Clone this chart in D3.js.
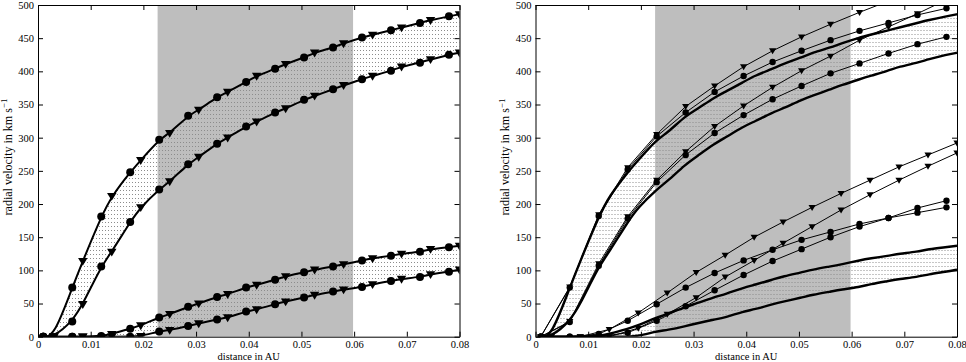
<!DOCTYPE html>
<html>
<head>
<meta charset="utf-8">
<script src="https://d3js.org/d3.v7.min.js"></script>
<style>
body { margin: 0; background: #fff; }
svg text { font-family: "Liberation Serif", "DejaVu Serif", serif; fill: #000; }
</style>
</head>
<body>
<svg id="chart" width="966" height="362"></svg>
<script>
// marker positions (distance in AU)
const xCirc = [0.001, 0.0065, 0.012, 0.0175, 0.023, 0.0285, 0.034, 0.0395, 0.045, 0.0505, 0.056, 0.0615, 0.067, 0.0725, 0.078];
const xTri  = [0.003, 0.0085, 0.014, 0.0195, 0.025, 0.0305, 0.036, 0.0415, 0.047, 0.0525, 0.058, 0.0635, 0.069, 0.0745, 0.080];

// model curves (thick), values at circle / triangle positions
const aCirc = [0, 74, 181, 248, 297, 333, 361, 384, 404, 421, 436, 451, 462, 473, 483];
const aTri  = [0, 114, 212, 266, 307, 342, 369, 393, 411, 428, 442, 455, 466, 477, 486];
const bCirc = [0, 23, 106, 173, 222, 260, 291, 317, 338, 357, 373, 388, 401, 413, 425];
const bTri  = [0, 49, 128, 195, 234, 271, 300, 324, 344, 363, 379, 393, 407, 418, 428];
const cCirc = [0, 0, 1, 12, 29, 45, 60, 74, 86, 97, 106, 115, 122, 128, 135];
const cTri  = [0, 0, 4, 17, 34, 50, 64, 78, 91, 101, 109, 118, 125, 132, 137];
const dCirc = [0, 0, 0, 0, 8, 16, 26, 38, 49, 59, 68, 75, 84, 90, 98];
const dTri  = [0, 0, 0, 1, 10, 20, 29, 41, 53, 63, 71, 79, 87, 94, 101];

// right panel: thin lines
const rT1 = [0, 75, 184, 255, 305, 347, 378, 407, 431, 452, 471, 489, 506];
const rC1 = [0, 74, 182, 252, 302, 338, 369, 393, 414, 431, 447, 461, 473, 485, 495];
const rT2 = [0, 23, 110, 181, 236, 279, 317, 348, 376, 401, 423, 447, 467, 487, 508];
const rC2 = [0, 22, 107, 178, 233, 274, 307, 334, 358, 378, 397, 412, 427, 441, 452];
const rC3 = [0, 0, 4, 24, 49, 74, 96, 115, 131, 146, 158, 170, 179, 194, 205];
const rC4 = [0, 0, 0, 6, 24, 46, 70, 93, 114, 132, 150, 166, 179, 187, 195];
const rT3 = [0, 0, 11, 36, 66, 97, 123, 150, 173, 195, 216, 236, 256, 274, 292];
const rT4 = [0, 0, 0, 13, 34, 59, 90, 115, 141, 166, 191, 214, 236, 257, 277];

const band = [0.0227, 0.0598];
const xTicks = [0, 0.01, 0.02, 0.03, 0.04, 0.05, 0.06, 0.07, 0.08];
const xTickLabels = ['0', '0.01', '0.02', '0.03', '0.04', '0.05', '0.06', '0.07', '0.08'];
const yTicks = [0, 50, 100, 150, 200, 250, 300, 350, 400, 450, 500];

const svg = d3.select('#chart');
const defs = svg.append('defs');
const pat = defs.append('pattern').attr('id', 'dots')
  .attr('patternUnits', 'userSpaceOnUse').attr('width', 3).attr('height', 4);
pat.append('rect').attr('x', 1).attr('y', 1).attr('width', 1).attr('height', 1).attr('fill', '#8c8c8c');

function merge(c, t) {
  const out = [];
  c.forEach((v, i) => { out.push([xCirc[i], v]); if (i < t.length) out.push([xTri[i], t[i]]); });
  return out;
}
const A = merge(aCirc, aTri), B = merge(bCirc, bTri), C = merge(cCirc, cTri), D = merge(dCirc, dTri);

const W = 421.5, H = 331.7;
const triPath = 'M-4.5,-3L4.5,-3L0,4.5Z';

function drawPanel(left, id, right) {
  const g = svg.append('g').attr('transform', `translate(${left},5)`);
  const x = d3.scaleLinear().domain([0, 0.08]).range([0, W]);
  const y = d3.scaleLinear().domain([0, 500]).range([H, 0]);

  defs.append('clipPath').attr('id', 'clip' + id)
    .append('rect').attr('width', W).attr('height', H);
  const p = g.append('g').attr('clip-path', `url(#clip${id})`);

  p.append('rect').attr('x', x(band[0])).attr('y', 0)
    .attr('width', x(band[1]) - x(band[0])).attr('height', H).attr('fill', '#bebebe');

  const area = (top, bot) => d3.area().curve(d3.curveBasis)
    .x((d, i) => x(top[i][0])).y0((d, i) => y(bot[i][1])).y1((d, i) => y(top[i][1]))(top);
  p.append('path').attr('d', area(A, B)).attr('fill', 'url(#dots)');
  p.append('path').attr('d', area(C, D)).attr('fill', 'url(#dots)');

  const smooth = d3.line().curve(d3.curveBasis).x(d => x(d[0])).y(d => y(d[1]));
  [A, B, C, D].forEach(s => p.append('path').attr('d', smooth(s))
    .attr('fill', 'none').attr('stroke', '#000').attr('stroke-width', right ? 2.4 : 2));

  const circles = (xs, vs, r) => p.append('g').selectAll('circle')
    .data(vs).join('circle').attr('cx', (d, i) => x(xs[i])).attr('cy', d => y(d)).attr('r', r).attr('fill', '#000');
  const tris = (xs, vs, s) => p.append('g').selectAll('path')
    .data(vs).join('path').attr('d', triPath)
    .attr('transform', (d, i) => `translate(${x(xs[i])},${y(d)}) scale(${s})`).attr('fill', '#000');

  if (!right) {
    [[aCirc, aTri], [bCirc, bTri], [cCirc, cTri], [dCirc, dTri]].forEach(([c, t]) => {
      tris(xTri, t, 1.05);
      circles(xCirc, c, 4);
    });
  } else {
    const lin = d3.line().x(d => x(d[0])).y(d => y(d[1]));
    const thin = (xs, vs) => p.append('path').attr('d', lin(vs.map((v, i) => [xs[i], v])))
      .attr('fill', 'none').attr('stroke', '#000').attr('stroke-width', 1);
    [rT1, rC1, rT2, rC2, rC3, rC4].forEach(s => thin(xCirc, s));
    [rT3, rT4].forEach(s => thin(xTri, s));
    [rT1, rT2].forEach(s => tris(xCirc, s, 0.8));
    [rT3, rT4].forEach(s => tris(xTri, s, 0.8));
    [rC1, rC2, rC3, rC4].forEach(s => circles(xCirc, s, 3.2));
  }

  // axes with inward ticks on all sides
  const fs = '10.5px';
  const bx = g.append('g').attr('transform', `translate(0,${H})`)
    .call(d3.axisBottom(x).tickValues(xTicks).tickSizeInner(-5).tickSizeOuter(0).tickPadding(4)
      .tickFormat((d, i) => xTickLabels[i]));
  const tx = g.append('g').call(d3.axisTop(x).tickValues(xTicks).tickSizeInner(-5).tickSizeOuter(0).tickFormat(''));
  const ly = g.append('g').call(d3.axisLeft(y).tickValues(yTicks).tickSizeInner(-5).tickSizeOuter(0).tickPadding(4));
  const ry = g.append('g').attr('transform', `translate(${W},0)`)
    .call(d3.axisRight(y).tickValues(yTicks).tickSizeInner(-5).tickSizeOuter(0).tickFormat(''));
  [bx, tx, ly, ry].forEach(a => {
    a.attr('font-family', null).attr('font-size', fs);
    a.selectAll('line, path').attr('stroke', '#000');
  });

  g.append('text').attr('x', W / 2).attr('y', H + 23).attr('text-anchor', 'middle')
    .attr('font-size', '10.5px').text('distance in AU');
  const yl = g.append('text').attr('transform', `translate(-26.5,152) rotate(-90)`)
    .attr('text-anchor', 'middle').attr('font-size', '12px');
  yl.append('tspan').text('radial velocity in km s');
  yl.append('tspan').attr('dy', -4.5).attr('font-size', '9px').text('\u22121');
}

drawPanel(38, 'L', false);
drawPanel(535.5, 'R', true);
</script>
</body>
</html>
